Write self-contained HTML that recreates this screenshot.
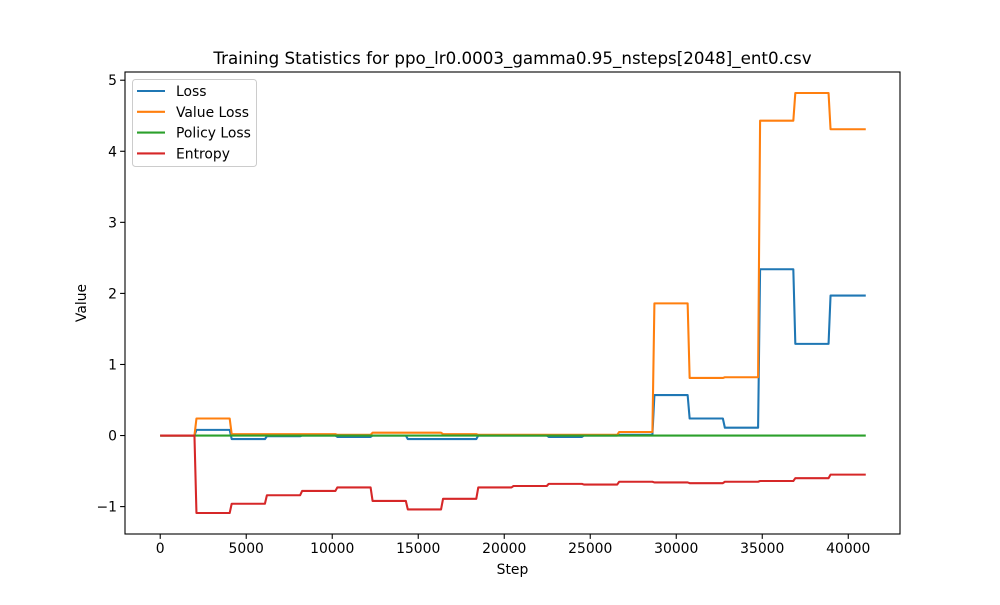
<!DOCTYPE html>
<html><head><meta charset="utf-8"><style>
body{margin:0;background:#fff;}
svg{font-family:"DejaVu Sans","Liberation Sans",sans-serif;}
</style></head><body>
<svg id="chart" width="1000" height="600" xmlns="http://www.w3.org/2000/svg"></svg>
<script>
const steps=[0,2048,4096,6144,8192,10240,12288,14336,16384,18432,20480,22528,24576,26624,28672,30720,32768,34816,36864,38912,40960];
const lossVals=[0,0.08,-0.05,-0.01,0,-0.02,0,-0.05,-0.05,0,0,-0.02,0,0.01,0.57,0.24,0.11,2.34,1.29,1.97,1.97];
const valueLossVals=[0,0.24,0.02,0.02,0.02,0.01,0.04,0.04,0.02,0.01,0.01,0.01,0.01,0.05,1.86,0.81,0.82,4.43,4.82,4.31,4.31];
const policyLossVals=[0,0,0,0,0,0,0,0,0,0,0,0,0,0,0,0,0,0,0,0,0];
const entropyVals=[0,-1.09,-0.96,-0.84,-0.78,-0.73,-0.92,-1.04,-0.89,-0.73,-0.71,-0.68,-0.69,-0.65,-0.66,-0.67,-0.65,-0.64,-0.60,-0.55,-0.55];
const xTicks=[0,5000,10000,15000,20000,25000,30000,35000,40000];
const yTicks=[-1,0,1,2,3,4,5];
const seriesNames=["Loss","Value Loss","Policy Loss","Entropy"];

const L=125,R=900,T=72,B=534;
const xmin=-2048,xmax=43008,ymin=-1.3855,ymax=5.1155;
const X=v=>L+(v-xmin)/(xmax-xmin)*(R-L);
const Y=v=>B-(v-ymin)/(ymax-ymin)*(B-T);
const svg=document.getElementById('chart');
const NS='http://www.w3.org/2000/svg';
function mk(tag,attrs,parent){const e=document.createElementNS(NS,tag);for(const k in attrs)e.setAttribute(k,attrs[k]);(parent||svg).appendChild(e);return e;}

const colors=["#1f77b4","#ff7f0e","#2ca02c","#d62728"];
const series=[lossVals,valueLossVals,policyLossVals,entropyVals];
const keys=["loss","value-loss","policy-loss","entropy"];
series.forEach((vals,si)=>{
  let d='';
  for(let i=0;i<steps.length;i++){
    const x=X(steps[i]);
    if(i===0){d+='M'+x+','+Y(vals[0]);}
    else{
      d+=' L'+(x-1)+','+Y(vals[i-1]);
      d+=' L'+(x+1)+','+Y(vals[i]);
    }
  }
  const p=mk('path',{d:d,fill:'none',stroke:colors[si],'stroke-width':2.08,'stroke-linejoin':'round'});
  
  
});

const frame=mk('rect',{x:L,y:T,width:R-L,height:B-T,fill:'none',stroke:'#000','stroke-width':1.1});



xTicks.forEach(t=>{
  const x=X(t);
  const tk=mk('line',{x1:x,x2:x,y1:B,y2:B+4.9,stroke:'#000','stroke-width':1.1});
  
  
  const tx=mk('text',{x:x,y:B+19,'text-anchor':'middle','font-size':'13.9px'});
  tx.textContent=t;
  
  
});
yTicks.forEach(t=>{
  const y=Y(t);
  const tk=mk('line',{x1:L-4.9,x2:L,y1:y,y2:y,stroke:'#000','stroke-width':1.1});
  
  
  const tx=mk('text',{x:L-8,y:y+5,'text-anchor':'end','font-size':'13.9px'});
  tx.textContent=t<0?'\u2212'+Math.abs(t):t;
  
  
});

const xt=mk('text',{x:(L+R)/2,y:574,'text-anchor':'middle','font-size':'13.9px'});
xt.textContent='Step';


const yt=mk('text',{x:86,y:(T+B)/2,'text-anchor':'middle','font-size':'13.9px',transform:'rotate(-90 86 '+((T+B)/2)+')'});
yt.textContent='Value';


const title=mk('text',{x:(L+R)/2,y:64,'text-anchor':'middle','font-size':'16.7px'});
title.textContent='Training Statistics for ppo_lr0.0003_gamma0.95_nsteps[2048]_ent0.csv';



const lg=mk('g',{});


mk('rect',{x:132.5,y:79.5,width:124,height:87,rx:3,fill:'#fff',stroke:'#ccc','stroke-width':1},lg);
seriesNames.forEach((n,i)=>{
  const y=91+i*20.8;
  const e=mk('g',{},lg);
  
  
  mk('line',{x1:137,x2:165,y1:y,y2:y,stroke:colors[i],'stroke-width':2.08},e);
  const t=mk('text',{x:176,y:y+5,'font-size':'13.9px'},e);
  t.textContent=n;
});
</script>
</body></html>
